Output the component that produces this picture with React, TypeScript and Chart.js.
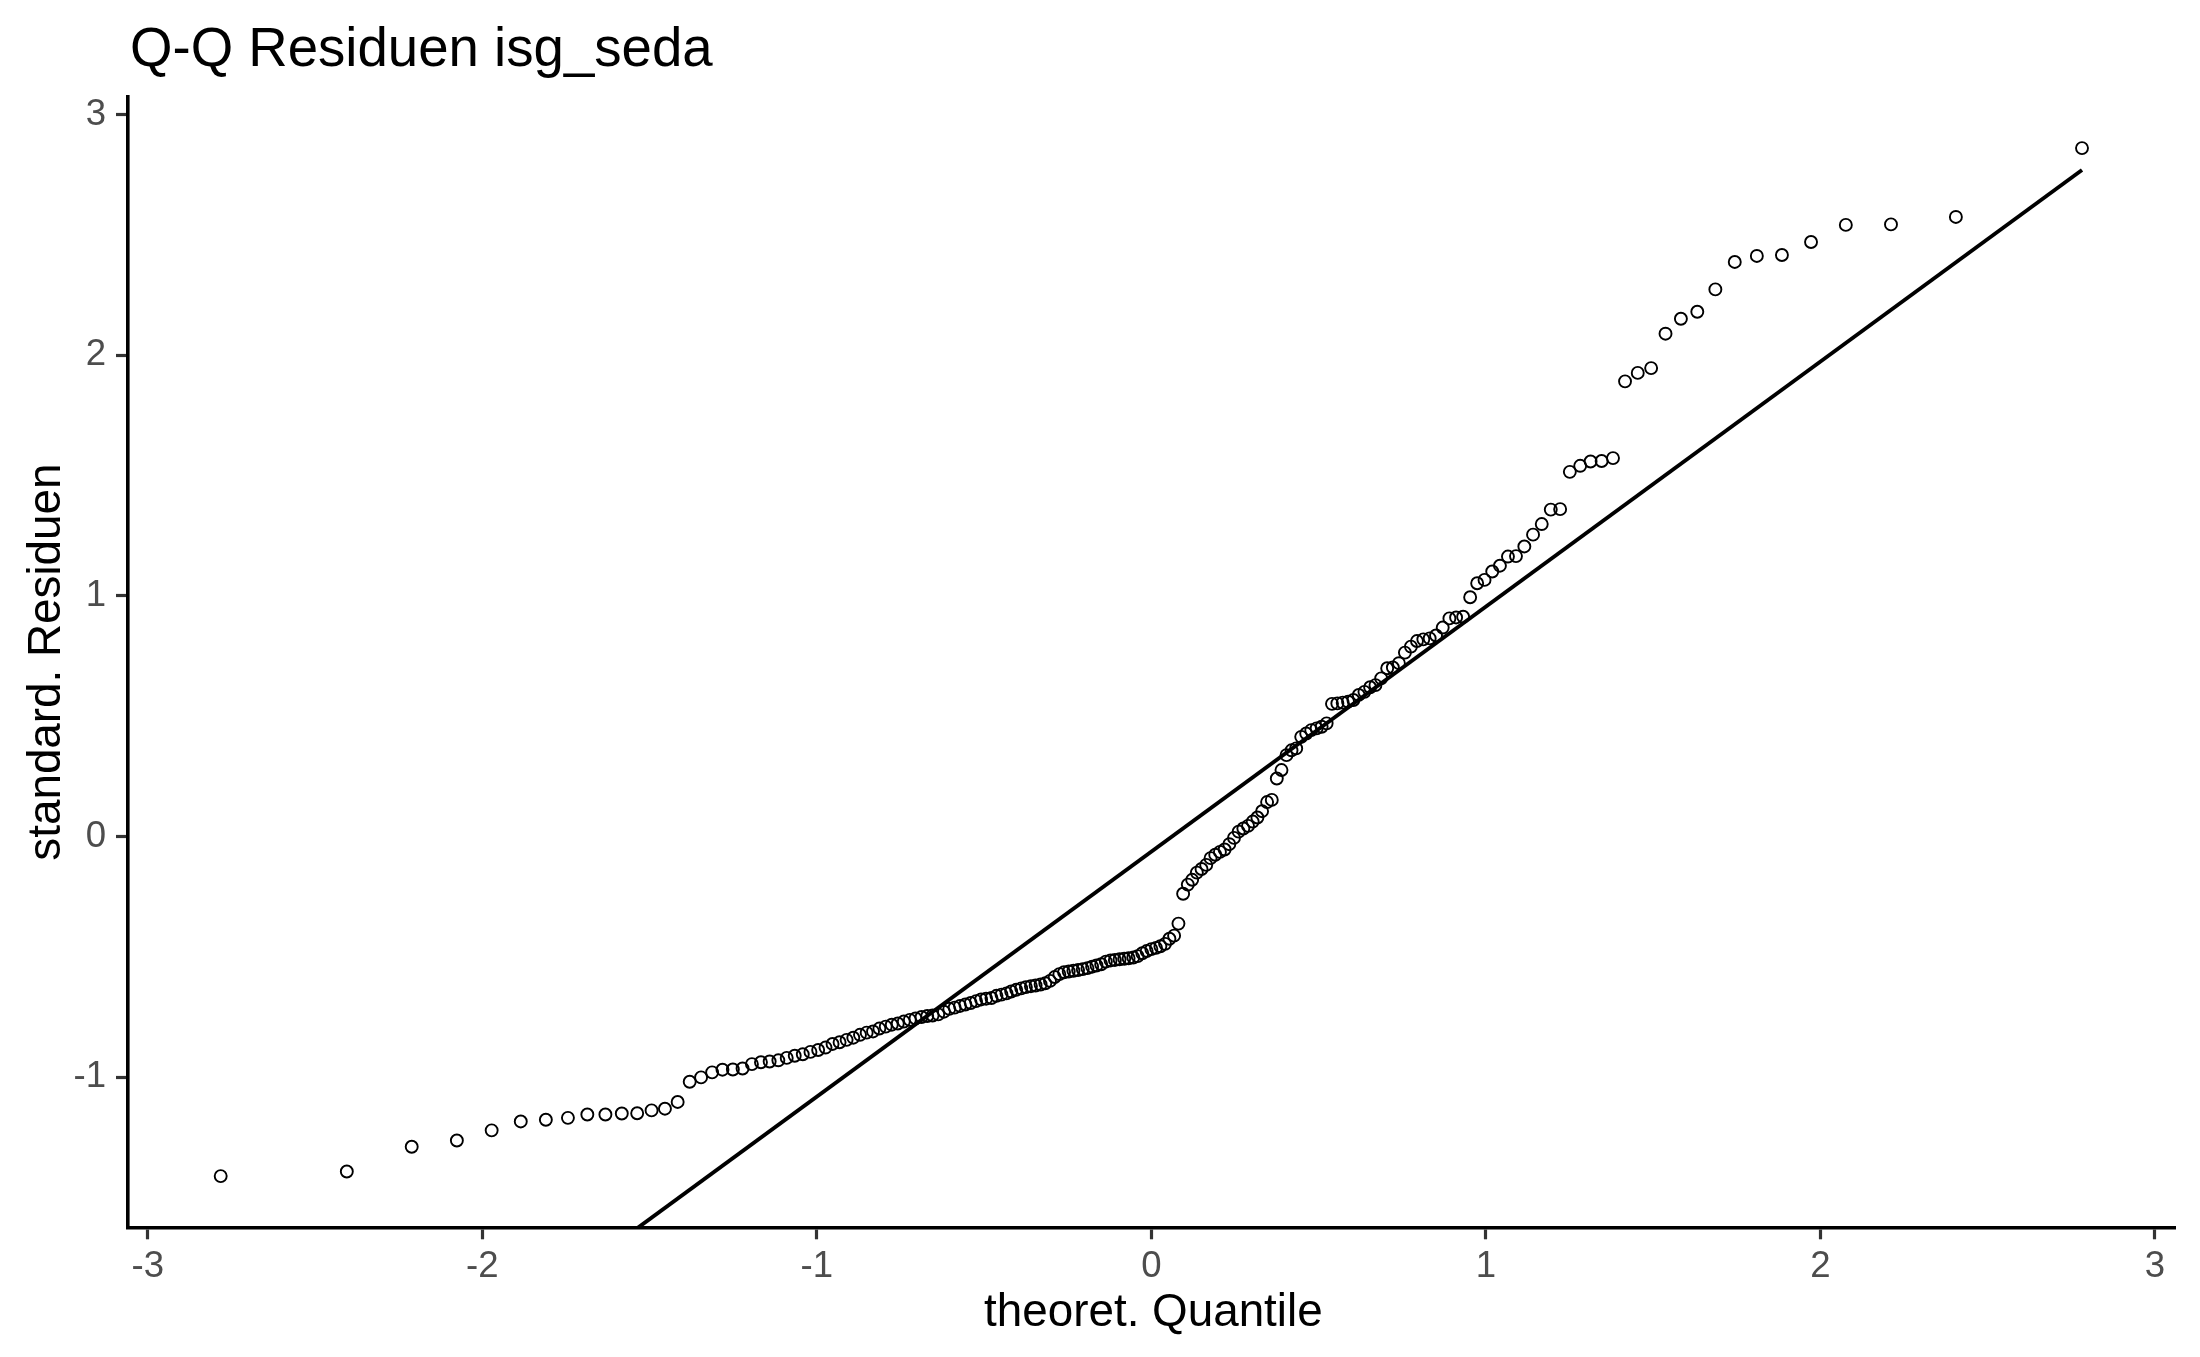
import React, { useEffect, useRef } from "react";
import { Chart, registerables } from "chart.js";

Chart.register(...registerables);

const TITLE = "Q-Q Residuen isg_seda";
const X_TITLE = "theoret. Quantile";
const Y_TITLE = "standard. Residuen";

const xTicks = [-3, -2, -1, 0, 1, 2, 3];
const yTicks = [-1, 0, 1, 2, 3];

// theoretical quantiles (sorted)
const theoreticalQ = [
  -2.782, -2.405, -2.211, -2.076, -1.972, -1.885, -1.810, -1.744, -1.686, -1.632,
  -1.583, -1.537, -1.494, -1.454, -1.416, -1.380, -1.346, -1.313, -1.282, -1.251,
  -1.222, -1.194, -1.167, -1.141, -1.115, -1.090, -1.066, -1.042, -1.019, -0.996,
  -0.974, -0.953, -0.932, -0.911, -0.891, -0.871, -0.851, -0.832, -0.813, -0.794,
  -0.776, -0.758, -0.740, -0.722, -0.705, -0.687, -0.670, -0.654, -0.637, -0.620,
  -0.604, -0.588, -0.572, -0.556, -0.540, -0.524, -0.509, -0.494, -0.478, -0.463,
  -0.448, -0.433, -0.419, -0.404, -0.389, -0.375, -0.360, -0.346, -0.331, -0.317,
  -0.303, -0.289, -0.275, -0.261, -0.247, -0.233, -0.219, -0.205, -0.191, -0.177,
  -0.164, -0.150, -0.136, -0.122, -0.109, -0.095, -0.081, -0.068, -0.054, -0.041,
  -0.027, -0.014,
  0,
  0.014, 0.027,
  0.041, 0.054, 0.068, 0.081, 0.095, 0.109, 0.122, 0.136, 0.150, 0.164,
  0.177, 0.191, 0.205, 0.219, 0.233, 0.247, 0.261, 0.275, 0.289, 0.303,
  0.317, 0.331, 0.346, 0.360, 0.375, 0.389, 0.404, 0.419, 0.433, 0.448,
  0.463, 0.478, 0.494, 0.509, 0.524, 0.540, 0.556, 0.572, 0.588, 0.604,
  0.620, 0.637, 0.654, 0.670, 0.687, 0.705, 0.722, 0.740, 0.758, 0.776,
  0.794, 0.813, 0.832, 0.851, 0.871, 0.891, 0.911, 0.932, 0.953, 0.974,
  0.996, 1.019, 1.042, 1.066, 1.090, 1.115, 1.141, 1.167, 1.194, 1.222,
  1.251, 1.282, 1.313, 1.346, 1.380, 1.416, 1.454, 1.494, 1.537, 1.583,
  1.632, 1.686, 1.744, 1.810, 1.885, 1.972, 2.076, 2.211, 2.405, 2.782,
];

// standardized residuals (sorted)
const stdResiduals = [
  -1.411, -1.392, -1.289, -1.263, -1.221, -1.184, -1.177, -1.169, -1.155, -1.155,
  -1.151, -1.150, -1.138, -1.131, -1.103, -1.019, -1.001, -0.980, -0.969, -0.968,
  -0.964, -0.946, -0.938, -0.935, -0.930, -0.920, -0.911, -0.905, -0.895, -0.887,
  -0.877, -0.862, -0.855, -0.845, -0.836, -0.824, -0.815, -0.810, -0.798, -0.790,
  -0.782, -0.777, -0.769, -0.762, -0.756, -0.750, -0.746, -0.744, -0.739, -0.728,
  -0.716, -0.711, -0.704, -0.698, -0.692, -0.684, -0.677, -0.674, -0.671, -0.662,
  -0.657, -0.652, -0.644, -0.637, -0.631, -0.626, -0.622, -0.619, -0.615, -0.610,
  -0.600, -0.584, -0.572, -0.564, -0.561, -0.558, -0.555, -0.551, -0.547, -0.541,
  -0.536, -0.531, -0.520, -0.515, -0.513, -0.510, -0.508, -0.506, -0.503, -0.497,
  -0.485, -0.476, -0.468, -0.463, -0.456, -0.446, -0.425, -0.412, -0.362, -0.238,
  -0.200, -0.180, -0.150, -0.135, -0.118, -0.090, -0.076, -0.064, -0.054, -0.032,
  -0.006, 0.020, 0.033, 0.044, 0.062, 0.079, 0.105, 0.143, 0.152, 0.241,
  0.276, 0.338, 0.358, 0.366, 0.414, 0.428, 0.442, 0.449, 0.456, 0.470,
  0.551, 0.553, 0.556, 0.560, 0.567, 0.588, 0.601, 0.620, 0.629, 0.657,
  0.699, 0.702, 0.720, 0.764, 0.789, 0.812, 0.819, 0.823, 0.835, 0.868,
  0.906, 0.910, 0.913, 0.994, 1.052, 1.066, 1.101, 1.125, 1.163, 1.165,
  1.205, 1.254, 1.298, 1.358, 1.360, 1.515, 1.540, 1.558, 1.560, 1.572,
  1.891, 1.926, 1.946, 2.089, 2.151, 2.180, 2.273, 2.387, 2.412, 2.416,
  2.470, 2.541, 2.543, 2.574, 2.860,
];

// reference line end points
const lineX = [-2.782, 2.782];
const lineY = [-2.895, 2.769];

const FONT = '"Liberation Sans", Arial, Helvetica, sans-serif';

const textPlugin = {
  id: "ggTexts",
  afterDraw(chart: any) {
    const { ctx, chartArea } = chart;
    ctx.save();
    ctx.fillStyle = "#000000";
    ctx.textBaseline = "alphabetic";
    ctx.font = `54.6px ${FONT}`;
    ctx.textAlign = "left";
    ctx.fillText(TITLE, 130, 66);
    ctx.font = `45.8px ${FONT}`;
    ctx.textAlign = "center";
    ctx.fillText(X_TITLE, (chartArea.left + chartArea.right) / 2 + 2, 1326);
    ctx.translate(60, (chartArea.top + chartArea.bottom) / 2);
    ctx.rotate(-Math.PI / 2);
    ctx.fillText(Y_TITLE, 0, 0);
    ctx.restore();
  },
};

export default function App() {
  const ref = useRef<HTMLCanvasElement | null>(null);

  useEffect(() => {
    if (!ref.current) return;
    const points = theoreticalQ.map((x, i) => ({ x, y: stdResiduals[i] }));
    const linePts = lineX.map((x, i) => ({ x, y: lineY[i] }));
    const chart = new Chart(ref.current, {
      type: "scatter",
      data: {
        datasets: [
          {
            type: "line",
            data: linePts,
            borderColor: "#000000",
            borderWidth: 3.9,
            pointRadius: 0,
            fill: false,
            clip: 0,
          } as any,
          {
            data: points,
            pointStyle: "circle",
            pointRadius: 6,
            pointBorderWidth: 1.9,
            borderColor: "#000000",
            backgroundColor: "rgba(0,0,0,0)",
            pointBackgroundColor: "rgba(0,0,0,0)",
          } as any,
        ],
      },
      options: {
        responsive: false,
        animation: false,
        devicePixelRatio: 1,
        layout: { padding: { top: 96.6, right: 25, left: 0, bottom: 0 } },
        plugins: {
          legend: { display: false },
          tooltip: { enabled: false },
          title: { display: false },
        },
        scales: {
          x: {
            type: "linear",
            min: -3.06,
            max: 3.06,
            afterBuildTicks: (scale: any) => {
              scale.ticks = xTicks.map((v) => ({ value: v }));
            },
            afterFit: (scale: any) => {
              scale.height = 129.4;
            },
            grid: {
              display: true,
              drawOnChartArea: false,
              drawTicks: true,
              tickLength: 11.7,
              tickWidth: 3.2,
              tickColor: "#333333",
            },
            border: { display: true, color: "#000000", width: 3.6 },
            ticks: {
              padding: 6,
              color: "#4D4D4D",
              font: { family: FONT, size: 36.6 },
              maxRotation: 0,
            },
          },
          y: {
            type: "linear",
            min: -1.625,
            max: 3.074,
            afterBuildTicks: (scale: any) => {
              scale.ticks = yTicks.map((v) => ({ value: v }));
            },
            afterFit: (scale: any) => {
              scale.width = 127.7;
            },
            grid: {
              display: true,
              drawOnChartArea: false,
              drawTicks: true,
              tickLength: 11.7,
              tickWidth: 3.2,
              tickColor: "#333333",
            },
            border: { display: true, color: "#000000", width: 3.6 },
            ticks: {
              padding: 10,
              color: "#4D4D4D",
              font: { family: FONT, size: 36.6 },
            },
          },
        },
      },
      plugins: [textPlugin],
    });
    return () => chart.destroy();
  }, []);

  return (
    <div style={{ position: "fixed", left: 0, top: 0, width: 2200, height: 1357, background: "#ffffff" }}>
      <canvas ref={ref} width={2200} height={1357} style={{ display: "block" }} />
    </div>
  );
}
